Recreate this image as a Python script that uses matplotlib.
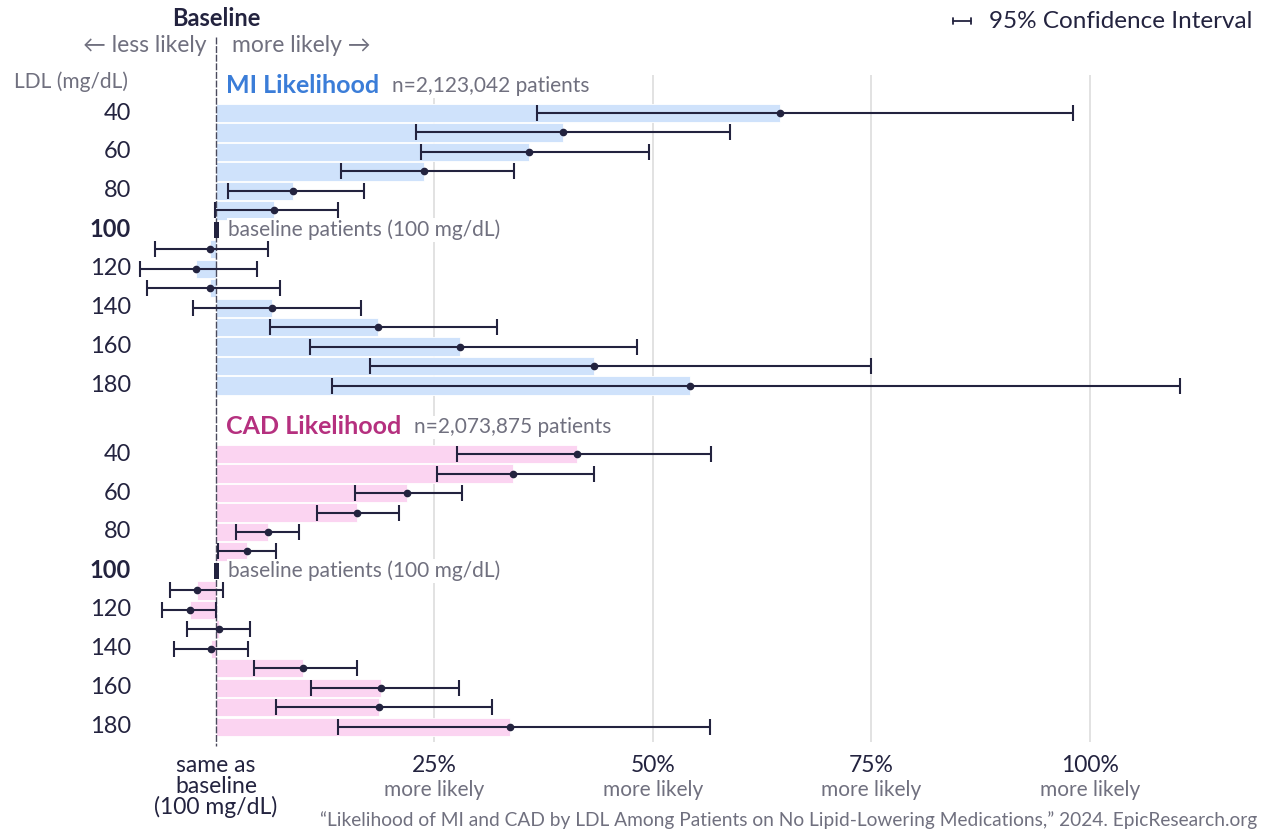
"""Likelihood of MI and CAD by LDL level, relative to 100 mg/dL baseline."""
import matplotlib

matplotlib.use("Agg")
import matplotlib.pyplot as plt  # noqa: E402
import numpy as np  # noqa: E402

plt.rcParams["font.family"] = ["Lato", "DejaVu Sans"]

# --- data (percent more/less likely than baseline) ---
LDL = [40, 50, 60, 70, 80, 90, 100, 110, 120, 130, 140, 150, 160, 170, 180]
MI_EST = [64.5, 39.7, 35.8, 23.8, 8.8, 6.6, 0.0, -0.7, -2.3, -0.7, 6.4, 18.5, 27.9, 43.2, 54.2]
MI_LO = [36.7, 22.9, 23.5, 14.3, 1.4, -0.1, 0.0, -7.0, -8.7, -7.9, -2.6, 6.2, 10.8, 17.6, 13.3]
MI_HI = [98.0, 58.8, 49.5, 34.1, 16.9, 14.0, 0.0, 5.9, 4.7, 7.3, 16.6, 32.2, 48.2, 74.9, 110.3]
CAD_EST = [41.3, 34.0, 21.9, 16.1, 5.9, 3.5, 0.0, -2.2, -3.0, 0.3, -0.6, 9.9, 18.9, 18.7, 33.6]
CAD_LO = [27.6, 25.3, 15.9, 11.6, 2.3, 0.2, 0.0, -5.3, -6.2, -3.3, -4.8, 4.3, 10.9, 6.9, 14.0]
CAD_HI = [56.6, 43.2, 28.1, 20.9, 9.5, 6.9, 0.0, 0.8, 0.0, 3.9, 3.7, 16.1, 27.8, 31.6, 56.5]
TICKS = [0, 25, 50, 75, 100]
TICK_LABELS = ["same as\nbaseline\n(100 mg/dL)", "25%", "50%", "75%", "100%"]
PANELS = [
    ("MI Likelihood", "n=2,123,042 patients", MI_EST, MI_LO, MI_HI, "#3b7dd8", "#cfe2fb"),
    ("CAD Likelihood", "n=2,073,875 patients", CAD_EST, CAD_LO, CAD_HI, "#b5307f", "#fbd4f1"),
]

DARK = "#23233f"
GRAY = "#70707f"
W, H = 1267, 838
X0, PXPCT = 216, 8.74      # pixel of 0% and pixels per percent
Y0, PXROW = 113, 19.47     # pixel of first row and pixels per row
PANEL_GAP = 17.52


def row_of(py):
    return (py - Y0) / PXROW


def pct_of(px):
    return (px - X0) / PXPCT


fig = plt.figure(figsize=(W / 100, H / 100), dpi=100)
ax = fig.add_axes([0, 0, 1, 1])
ax.set_xlim(pct_of(0), pct_of(W))
ax.set_ylim(row_of(H), row_of(0))
ax.axis("off")

ax.vlines(TICKS[1:], row_of(75), row_of(742), color="#dddddd", lw=1.2, zorder=1)
ax.vlines(0, row_of(37), row_of(746), color="#4a4a5c", lw=1.0, zorder=3,
          linestyles=(0, (5, 1.2)))

ldl = np.array(LDL)
for p, (title, ntext, est, lo, hi, tcol, bcol) in enumerate(PANELS):
    est, lo, hi = map(np.array, (est, lo, hi))
    y = np.arange(len(LDL)) + p * PANEL_GAP
    ax.barh(y, est, height=0.94, color=bcol, edgecolor="white", lw=0.6, zorder=2)
    base = ldl == 100
    ax.barh(y[base], 0.55, left=-0.25, height=0.85, color=DARK, zorder=4)
    m = ~base
    ax.errorbar(est[m], y[m], xerr=[est[m] - lo[m], hi[m] - est[m]], fmt="o",
                color=DARK, ms=4.5, elinewidth=1.5, capsize=6, capthick=1.5, zorder=5)
    for yy, v in zip(y, LDL):
        if v % 20 == 0:
            ax.text(pct_of(131), yy, str(v), ha="right", va="center", fontsize=17,
                    color=DARK, fontweight="bold" if v == 100 else "normal")
    ax.text(1.1, y[0] - 1.42, title, color=tcol, fontsize=18, fontweight="bold",
            va="center", zorder=3, bbox=dict(fc="white", ec="none", pad=1))
    ax.text(pct_of(392 if p == 0 else 414), y[0] - 1.38, ntext, color=GRAY, fontsize=15,
            va="center", zorder=3, bbox=dict(fc="white", ec="none", pad=1))
    ax.text(pct_of(228), y[base][0], "baseline patients (100 mg/dL)", color=GRAY,
            fontsize=15, va="center", zorder=3, bbox=dict(fc="white", ec="none", pad=1))

# x tick labels
for t, lab in zip(TICKS, TICK_LABELS):
    ax.text(t, row_of(755), lab, ha="center", va="top", fontsize=16.5, color=DARK,
            linespacing=0.98)
    if t > 0:
        ax.text(t, row_of(790), "more likely", ha="center", va="center", fontsize=15,
                color=GRAY)

# header texts
fig.text(X0 / W, 1 - 19 / H, "Baseline", ha="center", va="center", fontsize=17,
         fontweight="bold", color=DARK)
fig.text(206 / W, 1 - 45 / H, "\u2190 less likely", ha="right", va="center",
         fontsize=16.5, color=GRAY)
fig.text(232 / W, 1 - 45 / H, "more likely \u2192", ha="left", va="center",
         fontsize=16.5, color=GRAY)
fig.text(14 / W, 1 - 82 / H, "LDL (mg/dL)", ha="left", va="center", fontsize=15,
         color=GRAY)

# legend
ax.annotate("", xy=(971 / W, 1 - 21 / H), xytext=(953 / W, 1 - 21 / H),
            xycoords="figure fraction", textcoords="figure fraction",
            arrowprops=dict(arrowstyle="|-|,widthA=0.22,widthB=0.22", color=DARK,
                            lw=1.3, shrinkA=0, shrinkB=0))
fig.text(1252 / W, 1 - 21 / H, "95% Confidence Interval", ha="right", va="center",
         fontsize=17.5, color=DARK)

fig.text(1257 / W, 1 - 820 / H,
         "\u201cLikelihood of MI and CAD by LDL Among Patients on No Lipid-Lowering "
         "Medications,\u201d 2024. EpicResearch.org",
         ha="right", va="center", fontsize=13.8, color=GRAY)

fig.savefig("out.png", dpi=100)
